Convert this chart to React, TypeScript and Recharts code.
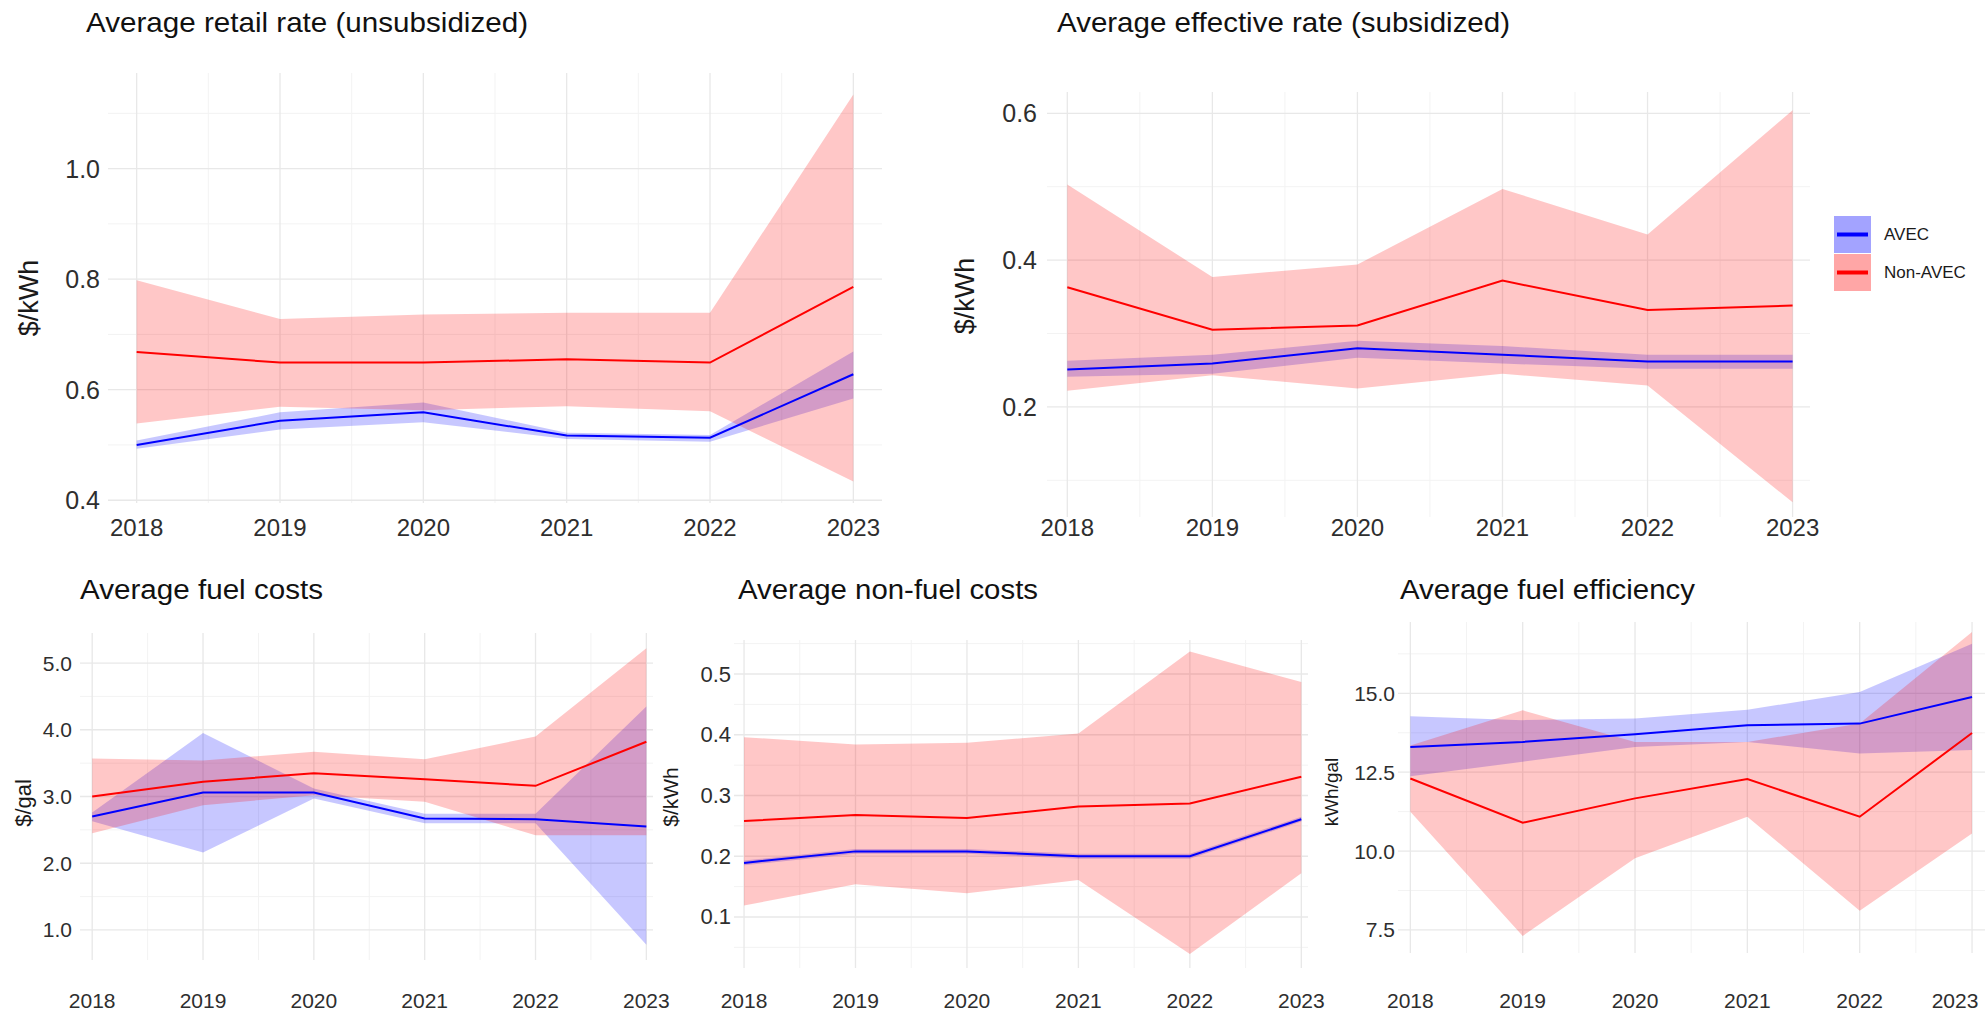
import React from 'react';
import { ComposedChart, Area, Line, XAxis, YAxis, CartesianGrid } from 'recharts';

const FONT = "'Liberation Sans', Arial, Helvetica, sans-serif";

const years = [2018, 2019, 2020, 2021, 2022, 2023];
const halfYears = [2018.5, 2019.5, 2020.5, 2021.5, 2022.5];

// Average retail rate (unsubsidized), $/kWh
const retailAvec = [0.500, 0.544, 0.559, 0.517, 0.513, 0.628];
const retailAvecLow = [0.493, 0.528, 0.541, 0.511, 0.506, 0.584];
const retailAvecHigh = [0.508, 0.559, 0.577, 0.522, 0.518, 0.669];
const retailNon = [0.668, 0.649, 0.649, 0.655, 0.649, 0.786];
const retailNonLow = [0.539, 0.569, 0.563, 0.570, 0.561, 0.434];
const retailNonHigh = [0.798, 0.728, 0.736, 0.739, 0.739, 1.134];

// Average effective rate (subsidized), $/kWh
const effAvec = [0.251, 0.259, 0.280, 0.271, 0.262, 0.262];
const effAvecLow = [0.241, 0.245, 0.267, 0.259, 0.252, 0.252];
const effAvecHigh = [0.263, 0.271, 0.290, 0.283, 0.271, 0.271];
const effNon = [0.363, 0.305, 0.311, 0.372, 0.332, 0.338];
const effNonLow = [0.222, 0.243, 0.225, 0.245, 0.229, 0.070];
const effNonHigh = [0.503, 0.377, 0.394, 0.497, 0.435, 0.604];

// Average fuel costs, $/gal
const fuelAvec = [2.70, 3.06, 3.06, 2.67, 2.66, 2.55];
const fuelAvecLow = [2.63, 2.16, 2.97, 2.60, 2.60, 0.78];
const fuelAvecHigh = [2.76, 3.95, 3.12, 2.74, 2.74, 4.35];
const fuelNon = [3.00, 3.22, 3.35, 3.26, 3.16, 3.82];
const fuelNonLow = [2.45, 2.87, 3.02, 2.92, 2.42, 2.42];
const fuelNonHigh = [3.57, 3.54, 3.67, 3.56, 3.90, 5.22];

// Average non-fuel costs, $/kWh
const nonFuelAvec = [0.189, 0.208, 0.208, 0.200, 0.200, 0.261];
const nonFuelAvecLow = [0.185, 0.204, 0.204, 0.196, 0.196, 0.257];
const nonFuelAvecHigh = [0.193, 0.212, 0.212, 0.204, 0.204, 0.265];
const nonFuelNon = [0.258, 0.268, 0.263, 0.282, 0.287, 0.331];
const nonFuelNonLow = [0.119, 0.154, 0.139, 0.161, 0.039, 0.172];
const nonFuelNonHigh = [0.396, 0.384, 0.387, 0.402, 0.537, 0.487];

// Average fuel efficiency, kWh/gal
const effiAvec = [13.30, 13.46, 13.70, 13.99, 14.04, 14.88];
const effiAvecLow = [12.37, 12.83, 13.30, 13.46, 13.09, 13.20];
const effiAvecHigh = [14.27, 14.15, 14.20, 14.48, 15.04, 16.57];
const effiNon = [12.30, 10.90, 11.67, 12.28, 11.09, 13.74];
const effiNonLow = [11.25, 7.31, 9.77, 11.09, 8.11, 10.56];
const effiNonHigh = [13.35, 14.46, 13.46, 13.46, 14.04, 16.94];

type Row = {
  year: number;
  avec: number;
  avecBand: [number, number];
  non: number;
  nonBand: [number, number];
};

function buildRows(a: number[], aLo: number[], aHi: number[], n: number[], nLo: number[], nHi: number[]): Row[] {
  return years.map((y, i) => ({
    year: y,
    avec: a[i],
    avecBand: [aLo[i], aHi[i]],
    non: n[i],
    nonBand: [nLo[i], nHi[i]],
  }));
}

const retailRows = buildRows(retailAvec, retailAvecLow, retailAvecHigh, retailNon, retailNonLow, retailNonHigh);
const effRows = buildRows(effAvec, effAvecLow, effAvecHigh, effNon, effNonLow, effNonHigh);
const fuelRows = buildRows(fuelAvec, fuelAvecLow, fuelAvecHigh, fuelNon, fuelNonLow, fuelNonHigh);
const nonFuelRows = buildRows(nonFuelAvec, nonFuelAvecLow, nonFuelAvecHigh, nonFuelNon, nonFuelNonLow, nonFuelNonHigh);
const effiRows = buildRows(effiAvec, effiAvecLow, effiAvecHigh, effiNon, effiNonLow, effiNonHigh);

type PanelProps = {
  rows: Row[];
  box: { x0: number; y0: number; x1: number; y1: number };
  xDomain: [number, number];
  yDomain: [number, number];
  yTicks: number[];
  yMinor: number[];
  tickFs: number;
  xTickFs: number;
  xLabelY: number;
  yGap: number;
  maxLabelX?: number;
};

const YW = 110;
const XH = 80;
const MR = 45;

function Panel(p: PanelProps) {
  const w = YW + (p.box.x1 - p.box.x0) + MR;
  const h = p.box.y1 - p.box.y0 + XH;
  const left = p.box.x0 - YW;
  const top = p.box.y0;
  const labelY = p.xLabelY - top;
  const maxX = p.maxLabelX !== undefined ? p.maxLabelX - left : Infinity;
  return (
    <div style={{ position: 'absolute', left, top, width: w, height: h }}>
      <ComposedChart width={w} height={h} data={p.rows} margin={{ top: 0, right: MR, bottom: 0, left: 0 }}>
        <CartesianGrid stroke="#f3f3f3" strokeWidth={1} horizontalValues={p.yMinor} verticalValues={halfYears} />
        <CartesianGrid stroke="#e8e8e8" strokeWidth={1.3} horizontalValues={p.yTicks} verticalValues={years} />
        <XAxis
          dataKey="year"
          type="number"
          domain={p.xDomain}
          ticks={years}
          interval={0}
          allowDataOverflow
          axisLine={false}
          tickLine={false}
          tickSize={0}
          tickMargin={0}
          height={XH}
          tick={(t: any) => (
            <text
              x={Math.min(t.x, maxX)}
              y={labelY}
              textAnchor="middle"
              dominantBaseline="central"
              fontSize={p.xTickFs}
              fontFamily={FONT}
              fill="#2e2e2e"
            >
              {t.payload.value}
            </text>
          )}
        />
        <YAxis
          type="number"
          domain={p.yDomain}
          ticks={p.yTicks}
          interval={0}
          allowDataOverflow
          axisLine={false}
          tickLine={false}
          tickSize={0}
          tickMargin={0}
          width={YW}
          tick={(t: any) => (
            <text
              x={YW - p.yGap}
              y={t.y}
              textAnchor="end"
              dominantBaseline="central"
              fontSize={p.tickFs}
              fontFamily={FONT}
              fill="#2e2e2e"
            >
              {Number(t.payload.value).toFixed(1)}
            </text>
          )}
        />
        <Area dataKey="avecBand" type="linear" stroke="none" fill="#0000ff" fillOpacity={0.22} isAnimationActive={false} activeDot={false} />
        <Line dataKey="avec" type="linear" stroke="#0000ff" strokeWidth={2} dot={false} activeDot={false} isAnimationActive={false} />
        <Area dataKey="nonBand" type="linear" stroke="none" fill="#ff0000" fillOpacity={0.22} isAnimationActive={false} activeDot={false} />
        <Line dataKey="non" type="linear" stroke="#ff0000" strokeWidth={2} dot={false} activeDot={false} isAnimationActive={false} />
      </ComposedChart>
    </div>
  );
}

const titles = [
  { text: 'Average retail rate (unsubsidized)', x: 86, y: 32, fs: 28, len: 442 },
  { text: 'Average effective rate (subsidized)', x: 1057, y: 32, fs: 28, len: 453 },
  { text: 'Average fuel costs', x: 80, y: 599, fs: 27, len: 243 },
  { text: 'Average non-fuel costs', x: 738, y: 599, fs: 27, len: 300 },
  { text: 'Average fuel efficiency', x: 1400, y: 599, fs: 27, len: 295 },
];

const axisTitles = [
  { text: '$/kWh', x: 29, y: 298, fs: 27 },
  { text: '$/kWh', x: 965, y: 296, fs: 27 },
  { text: '$/gal', x: 23, y: 803, fs: 22 },
  { text: '$/kWh', x: 670, y: 797, fs: 21 },
  { text: 'kWh/gal', x: 1331, y: 792, fs: 19 },
];

const legendItems = [
  { label: 'AVEC', fill: '#a3a3ff', stroke: '#0000ff' },
  { label: 'Non-AVEC', fill: '#ffa6a6', stroke: '#ff0000' },
];

export default function App() {
  return (
    <div
      style={{
        position: 'fixed',
        left: 0,
        top: 0,
        width: 1985,
        height: 1013,
        overflow: 'hidden',
        background: '#ffffff',
        fontFamily: FONT,
      }}
    >
      <Panel
        rows={retailRows}
        box={{ x0: 108, y0: 73, x1: 882, y1: 503 }}
        xDomain={[2017.8, 2023.2]}
        yDomain={[0.395, 1.173]}
        yTicks={[0.4, 0.6, 0.8, 1.0]}
        yMinor={[0.5, 0.7, 0.9, 1.1]}
        tickFs={25}
        xTickFs={24}
        xLabelY={527}
        yGap={8}
      />
      <Panel
        rows={effRows}
        box={{ x0: 1047, y0: 92, x1: 1810, y1: 517 }}
        xDomain={[2017.86, 2023.12]}
        yDomain={[0.05, 0.629]}
        yTicks={[0.2, 0.4, 0.6]}
        yMinor={[0.1, 0.3, 0.5]}
        tickFs={25}
        xTickFs={24}
        xLabelY={527}
        yGap={10}
      />
      <Panel
        rows={fuelRows}
        box={{ x0: 80, y0: 633, x1: 653, y1: 960 }}
        xDomain={[2017.89, 2023.06]}
        yDomain={[0.55, 5.45]}
        yTicks={[1, 2, 3, 4, 5]}
        yMinor={[1.5, 2.5, 3.5, 4.5]}
        tickFs={21}
        xTickFs={21}
        xLabelY={1000}
        yGap={8}
      />
      <Panel
        rows={nonFuelRows}
        box={{ x0: 734, y0: 640, x1: 1308, y1: 968 }}
        xDomain={[2017.91, 2023.06]}
        yDomain={[0.016, 0.556]}
        yTicks={[0.1, 0.2, 0.3, 0.4, 0.5]}
        yMinor={[0.05, 0.15, 0.25, 0.35, 0.45, 0.55]}
        tickFs={22}
        xTickFs={21}
        xLabelY={1000}
        yGap={3}
      />
      <Panel
        rows={effiRows}
        box={{ x0: 1398, y0: 622, x1: 1990, y1: 953 }}
        xDomain={[2017.89, 2023.16]}
        yDomain={[6.77, 17.26]}
        yTicks={[7.5, 10, 12.5, 15]}
        yMinor={[8.75, 11.25, 13.75, 16.25]}
        tickFs={21}
        xTickFs={21}
        xLabelY={1000}
        yGap={3}
        maxLabelX={1955}
      />
      <svg
        width={1985}
        height={1013}
        style={{ position: 'absolute', left: 0, top: 0, pointerEvents: 'none' }}
      >
        {titles.map((t) => (
          <text
            key={t.text}
            x={t.x}
            y={t.y}
            fontSize={t.fs}
            fontFamily={FONT}
            fill="#111111"
            textLength={t.len}
            lengthAdjust="spacingAndGlyphs"
          >
            {t.text}
          </text>
        ))}
        {axisTitles.map((t, i) => (
          <text
            key={'ax' + i}
            x={t.x}
            y={t.y}
            fontSize={t.fs}
            fontFamily={FONT}
            fill="#1a1a1a"
            textAnchor="middle"
            dominantBaseline="central"
            transform={`rotate(-90 ${t.x} ${t.y})`}
          >
            {t.text}
          </text>
        ))}
        {legendItems.map((it, i) => {
          const ky = 216 + i * 38;
          return (
            <g key={it.label}>
              <rect x={1834} y={ky} width={37} height={37} fill={it.fill} />
              <line x1={1837} x2={1868} y1={ky + 18.5} y2={ky + 18.5} stroke={it.stroke} strokeWidth={4} />
              <text x={1884} y={ky + 18.5} dominantBaseline="central" fontSize={17} fontFamily={FONT} fill="#1a1a1a">
                {it.label}
              </text>
            </g>
          );
        })}
      </svg>
    </div>
  );
}
